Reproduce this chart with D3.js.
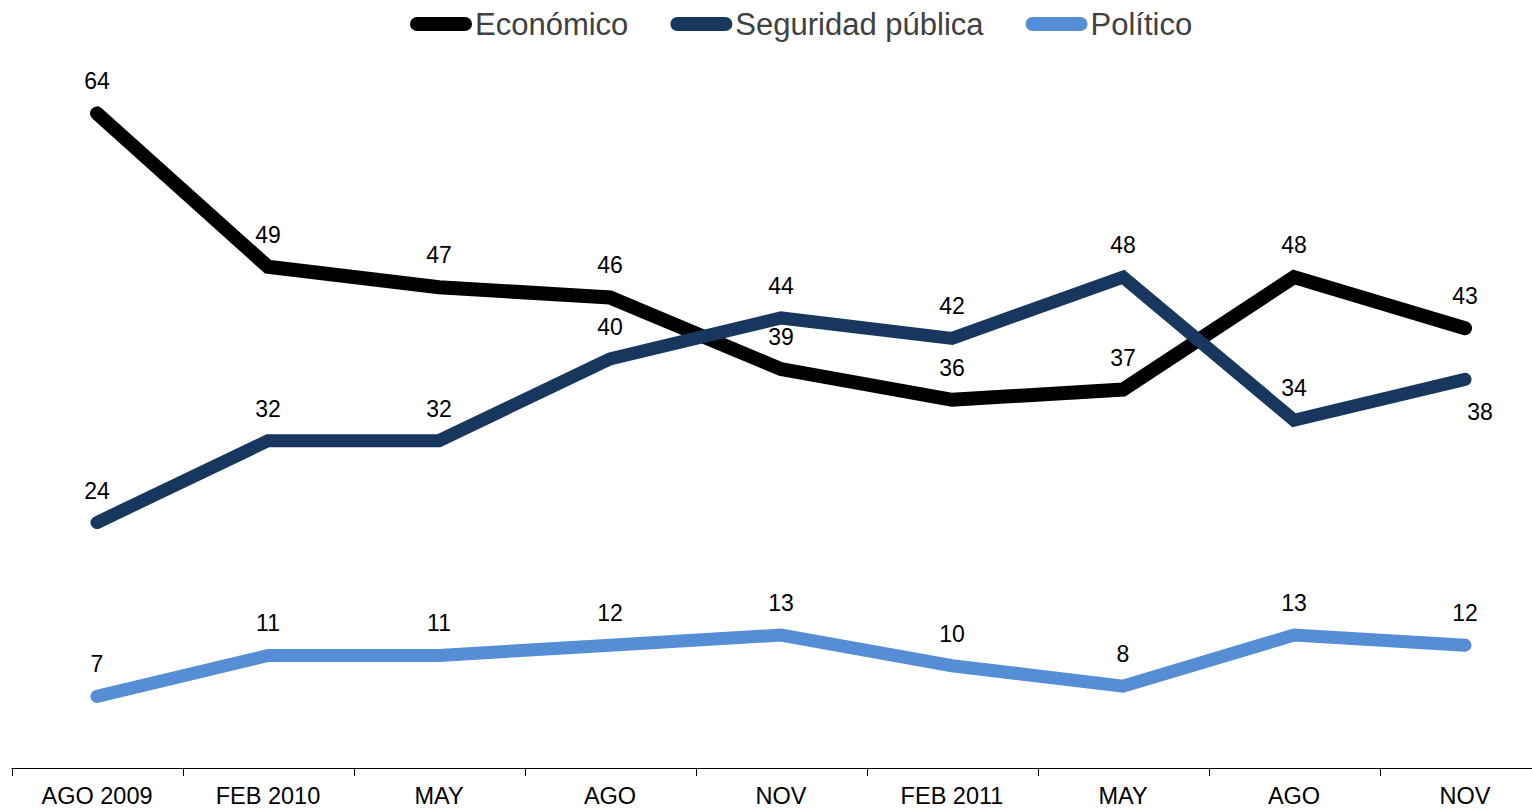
<!DOCTYPE html>
<html>
<head>
<meta charset="utf-8">
<script src="https://cdn.jsdelivr.net/npm/d3@7"></script>
<style>
  html, body { margin: 0; padding: 0; background: #fff; }
  svg { display: block; }
  text { font-family: "Liberation Sans", Arial, sans-serif; }
</style>
</head>
<body>
<svg id="chart" width="1532" height="809"></svg>
<script>
const categories = ["AGO 2009", "FEB 2010", "MAY", "AGO", "NOV", "FEB 2011", "MAY", "AGO", "NOV"];
const economico = [64, 49, 47, 46, 39, 36, 37, 48, 43];
const seguridad = [24, 32, 32, 40, 44, 42, 48, 34, 38];
const politico  = [7, 11, 11, 12, 13, 10, 8, 13, 12];
const seriesNames = ["Económico", "Seguridad pública", "Político"];

const colors = { "Económico": "#000000", "Seguridad pública": "#17375E", "Político": "#558ED5" };
const widths = { "Económico": 14, "Seguridad pública": 13, "Político": 13 };

const series = [
  { name: "Económico", values: economico },
  { name: "Político", values: politico },
  { name: "Seguridad pública", values: seguridad }
];

const svg = d3.select("#chart");
const idx = categories.map((_, i) => i);

const x = d3.scaleBand().domain(idx).range([11.5, 1550.5]).paddingInner(0).paddingOuter(0);
const y = d3.scaleLinear().domain([0, 70]).range([768, 52]);
const cx = i => x(i) + x.bandwidth() / 2;

// Axis
const axis = d3.axisBottom(x).tickSize(0).tickFormat(i => categories[i]);
const gAxis = svg.append("g").attr("transform", "translate(0,768)").call(axis);
gAxis.select(".domain").remove();
gAxis.selectAll("text")
  .attr("y", 0).attr("dy", 0)
  .attr("transform", "translate(0,36)")
  .style("font-size", "23.5px")
  .style("font-family", '"Liberation Sans", Arial, sans-serif')
  .attr("fill", "#000");
svg.append("line").attr("x1", 11.5).attr("x2", 1532).attr("y1", 768.5).attr("y2", 768.5)
  .attr("stroke", "#000").attr("stroke-width", 1);
const tickPos = idx.map(i => x(i)).concat([x(idx[idx.length - 1]) + x.bandwidth()]);
svg.selectAll("line.tk").data(tickPos).enter().append("line").attr("class", "tk")
  .attr("x1", d => Math.round(d) + 0.5).attr("x2", d => Math.round(d) + 0.5)
  .attr("y1", 768).attr("y2", 776).attr("stroke", "#000").attr("stroke-width", 1);

// Lines
const line = d3.line().x((d, i) => cx(i)).y(d => y(d));
series.forEach(s => {
  svg.append("path").datum(s.values)
    .attr("d", line)
    .attr("fill", "none")
    .attr("stroke", colors[s.name])
    .attr("stroke-width", widths[s.name])
    .attr("stroke-linecap", "round")
    .attr("stroke-linejoin", "miter");
});

// Data labels
const labelFont = "23px";
function addLabels(vals, offsets) {
  svg.append("g").selectAll("text").data(vals).enter().append("text")
    .attr("x", (d, i) => cx(i) + (offsets[i] ? offsets[i][0] : 0))
    .attr("y", (d, i) => y(d) + (offsets[i] ? offsets[i][1] : -24))
    .attr("text-anchor", "middle")
    .style("font-size", labelFont)
    .attr("fill", "#000")
    .text(d => d);
}
addLabels(economico, {});
addLabels(seguridad, { 8: [15, 41] });
addLabels(politico, {});

// Legend
const legend = svg.append("g");
let lx = 417;
const ly = 24;
seriesNames.forEach(name => {
  legend.append("line").attr("x1", lx).attr("x2", lx + 48).attr("y1", ly).attr("y2", ly)
    .attr("stroke", colors[name]).attr("stroke-width", 14).attr("stroke-linecap", "round");
  const t = legend.append("text").attr("x", lx + 58).attr("y", ly + 11)
    .style("font-size", "31px").attr("fill", "#404040").text(name);
  const w = t.node().getComputedTextLength();
  lx = lx + 58 + w + 49;
});
</script>
</body>
</html>
